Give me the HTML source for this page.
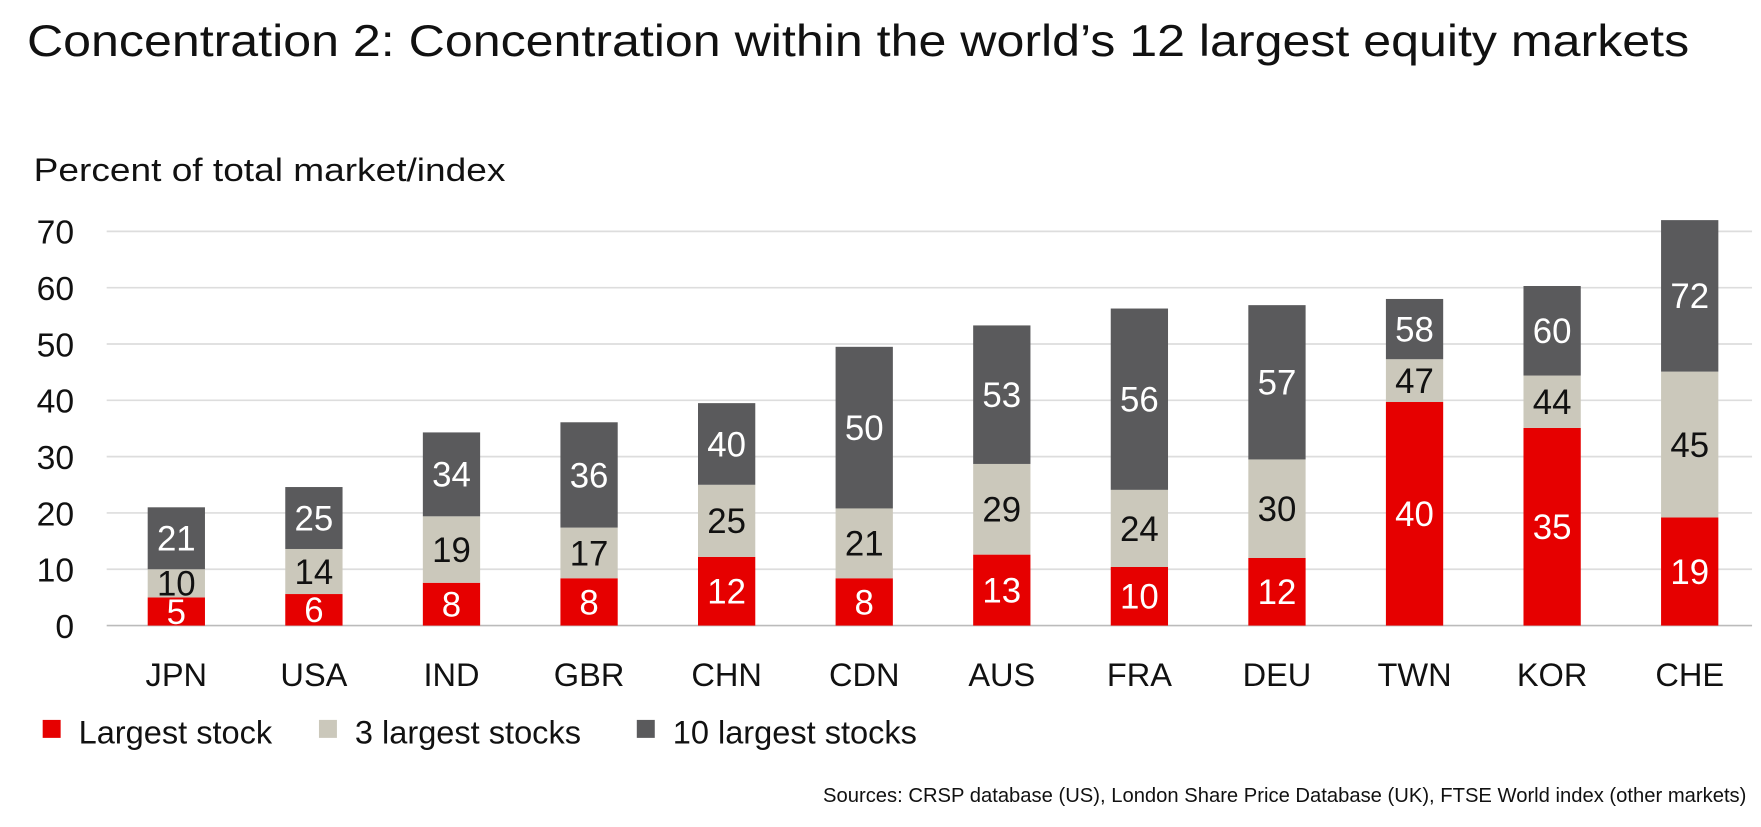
<!DOCTYPE html>
<html><head><meta charset="utf-8"><style>
body{margin:0;background:#fff;width:1761px;height:822px;overflow:hidden;font-family:"Liberation Sans",sans-serif}
</style></head><body>
<svg width="1761" height="822" font-family="Liberation Sans, sans-serif">
<g transform="scale(1.1231)">
<text x="24" y="50" font-size="40" fill="#111" textLength="1480" lengthAdjust="spacingAndGlyphs">Concentration 2: Concentration within the world’s 12 largest equity markets</text>
<text x="30" y="161" font-size="29" fill="#111" textLength="420" lengthAdjust="spacingAndGlyphs">Percent of total market/index</text>
<g id="grid"></g><g id="bars"></g><g id="labels"></g>
<g>
<rect x="38" y="641" width="16" height="16" fill="#e60000"/>
<text x="70" y="662" font-size="29" fill="#111">Largest stock</text>
<rect x="284" y="641" width="16" height="16" fill="#cbc8bb"/>
<text x="316" y="662" font-size="29" fill="#111">3 largest stocks</text>
<rect x="567" y="641" width="16" height="16" fill="#5a5a5c"/>
<text x="599" y="662" font-size="29" fill="#111">10 largest stocks</text>
</g>
<text x="1555" y="714" font-size="18" fill="#111" text-anchor="end">Sources: CRSP database (US), London Share Price Database (UK), FTSE World index (other markets)</text>
</g>
</svg>
<script>
const categories=["JPN","USA","IND","GBR","CHN","CDN","AUS","FRA","DEU","TWN","KOR","CHE"];
const largest=[5.0,5.6,7.6,8.4,12.2,8.4,12.6,10.4,12.0,39.7,35.1,19.2];
const top3=[10.0,13.6,19.4,17.4,25.0,20.8,28.7,24.1,29.5,47.3,44.4,45.1];
const top10=[21.0,24.6,34.3,36.1,39.5,49.5,53.3,56.3,56.9,58.0,60.3,72.0];
const yTicks=[0,10,20,30,40,50,60,70];
const NS="http://www.w3.org/2000/svg";
const y=v=>557-v*5.014;
const x=i=>157+i*122.5;
const bw=51;
function mk(tag,attrs,parent){const e=document.createElementNS(NS,tag);for(const k in attrs)e.setAttribute(k,attrs[k]);parent.appendChild(e);return e;}
const grid=document.getElementById('grid'),bars=document.getElementById('bars'),labels=document.getElementById('labels');
yTicks.forEach(t=>{
 const l=mk('line',{x1:95,x2:1560,y1:y(t),y2:y(t),stroke:t===0?'#bbb':'#ddd','stroke-width':1.5},grid);
 
 
 const tx=mk('text',{x:66,y:y(t)+11,'font-size':30,'text-anchor':'end',fill:'#111'},grid);
 tx.textContent=t;
 
 
});
categories.forEach((c,i)=>{
 const segs=[[0,largest[i],'#e60000','#fff','largest'],[largest[i],top3[i],'#cbc8bb','#111','top3'],[top3[i],top10[i],'#5a5a5c','#fff','top10']];
 segs.forEach(s=>{
  const r=mk('rect',{x:x(i)-bw/2,y:y(s[1]),width:bw,height:y(s[0])-y(s[1]),fill:s[2]},bars);
  
  
  const t=mk('text',{x:x(i),y:(y(s[0])+y(s[1]))/2+11,'font-size':31,'text-anchor':'middle',fill:s[3]},labels);
  t.textContent=Math.round(s[1]);
  
  
 });
 const cl=mk('text',{x:x(i),y:611,'font-size':29,'text-anchor':'middle',fill:'#111'},labels);
 cl.textContent=c;
 
 
});
</script>
</body></html>
